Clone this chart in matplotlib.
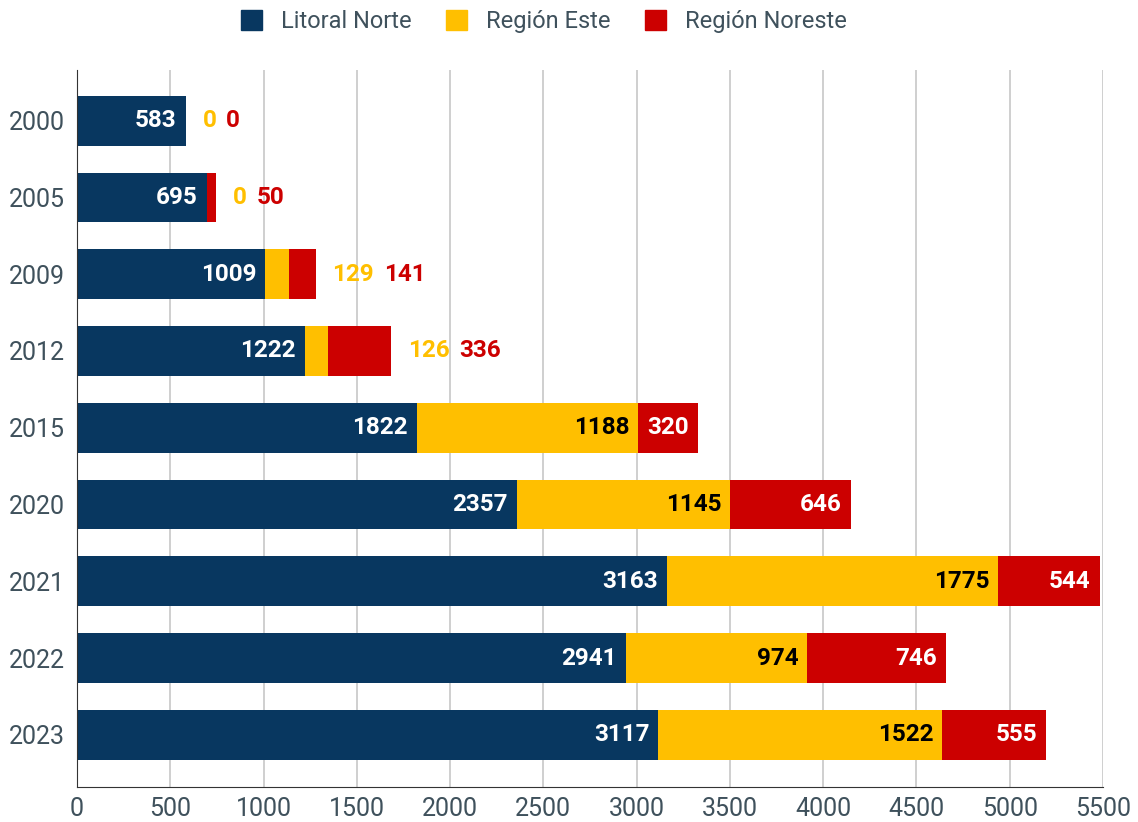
import numpy as np
import matplotlib.pyplot as plt
from matplotlib.patches import Patch

years = ['2000', '2005', '2009', '2012', '2015', '2020', '2021', '2022', '2023']
litoral_norte = [583, 695, 1009, 1222, 1822, 2357, 3163, 2941, 3117]
region_este = [0, 0, 129, 126, 1188, 1145, 1775, 974, 1522]
region_noreste = [0, 50, 141, 336, 320, 646, 544, 746, 555]
series_names = ['Litoral Norte', 'Región Este', 'Región Noreste']

NAVY = '#083760'
YELLOW = '#ffbf00'
RED = '#cc0000'
TXT = '#3f515c'

plt.rcParams['font.family'] = ['Roboto', 'DejaVu Sans']

fig = plt.figure(figsize=(11.38, 8.22), dpi=100)
ax = fig.add_axes([0.0677, 0.0426, 0.9015, 0.8722])

y = np.arange(len(years))
h = 0.65
ln = np.array(litoral_norte)
re = np.array(region_este)
rn = np.array(region_noreste)

ax.barh(y, ln, height=h, color=NAVY, zorder=3)
ax.barh(y, re, left=ln, height=h, color=YELLOW, zorder=3)
ax.barh(y, rn, left=ln + re, height=h, color=RED, zorder=3)

fs = 17.5
pad_in = -6.5
for i in range(len(years)):
    # navy label always inside
    ax.annotate(str(ln[i]), (ln[i], y[i]), xytext=(pad_in, 0), textcoords='offset points',
                ha='right', va='center', color='white', fontsize=fs, fontweight='bold', zorder=4)
    if re[i] < 400:
        # small segments: labels go after the bar end
        end = ln[i] + re[i] + rn[i]
        t1 = ax.annotate(str(re[i]), (end, y[i]), xytext=(12, 0), textcoords='offset points',
                         ha='left', va='center', color=YELLOW, fontsize=fs, fontweight='bold', zorder=4)
        ax.annotate(str(rn[i]), (1, 0.5), xycoords=t1, xytext=(7, 0), textcoords='offset points',
                    ha='left', va='center', color=RED, fontsize=fs, fontweight='bold', zorder=4)
    else:
        ax.annotate(str(re[i]), (ln[i] + re[i], y[i]), xytext=(pad_in, 0), textcoords='offset points',
                    ha='right', va='center', color='black', fontsize=fs, fontweight='bold', zorder=4)
        ax.annotate(str(rn[i]), (ln[i] + re[i] + rn[i], y[i]), xytext=(pad_in, 0), textcoords='offset points',
                    ha='right', va='center', color='white', fontsize=fs, fontweight='bold', zorder=4)

ax.set_xlim(0, 5500)
ax.set_xticks(np.arange(0, 5501, 500))
ax.set_ylim(len(years) - 1 + 0.68, -0.66)
ax.set_yticks(y)
ax.set_yticklabels(years)
ax.tick_params(axis='both', length=0, labelsize=18, labelcolor=TXT)
ax.tick_params(axis='x', pad=7)
ax.tick_params(axis='y', pad=9)
ax.grid(axis='x', color='#cccccc', lw=1.3, zorder=0)
for s in ['top', 'right']:
    ax.spines[s].set_visible(False)
ax.spines['left'].set_color('#333333')
ax.spines['bottom'].set_color('#333333')
ax.spines['left'].set_zorder(5)

handles = [Patch(color=c) for c in [NAVY, YELLOW, RED]]
fig.legend(handles, series_names, loc='center', bbox_to_anchor=(0.478, 0.974), ncol=3,
           frameon=False, fontsize=17, labelcolor=TXT, handlelength=0.9, handleheight=0.9,
           handletextpad=0.8, columnspacing=1.45)

fig.savefig('out.png', dpi=100)
